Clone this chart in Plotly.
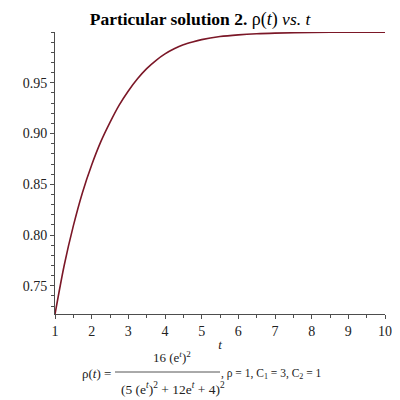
import plotly.graph_objects as go

# values
t_vals = [1, 1.25, 1.5, 1.75, 2, 2.25, 2.5, 2.75, 3, 3.25, 3.5, 3.75, 4,
          4.25, 4.5, 4.75, 5, 5.5, 6, 6.5, 7, 8, 9, 10]
rho_vals = [0.722, 0.770, 0.809, 0.842, 0.869, 0.892, 0.911, 0.928, 0.942,
            0.954, 0.964, 0.972, 0.9785, 0.9835, 0.9875, 0.9903, 0.9926,
            0.9956, 0.9973, 0.9984, 0.9990, 0.99965, 0.99988, 0.99996]

x_ticks = [1, 2, 3, 4, 5, 6, 7, 8, 9, 10]
y_ticks = [0.75, 0.80, 0.85, 0.90, 0.95]
y_tick_text = ["0.75", "0.80", "0.85", "0.90", "0.95"]

serif = "Liberation Serif, Times New Roman, serif"
curve_color = "#7b1727"
axis_color = "#4d4d4d"

# the page body has an 8px margin, so the figure is 392px and shifted
OFF = 8
W = H = 400 - OFF

fig = go.Figure()
fig.add_trace(go.Scatter(x=t_vals, y=rho_vals, mode="lines",
                         line=dict(color=curve_color, width=1.6, shape="spline", smoothing=0.8),
                         hoverinfo="skip", showlegend=False))

# target page pixels of the plot area
L, R, T, B = 55, 385, 32, 314
def px(x):
    return (x - L) / (R - L)
def py(y):
    return (B - y) / (B - T)

fig.update_layout(
    width=W, height=H,
    margin=dict(l=L - OFF, r=400 - R, t=T - OFF, b=400 - B, autoexpand=False),
    paper_bgcolor="white", plot_bgcolor="white",
    title=dict(text="<b>Particular solution 2.</b> <span style='font-size:18px'>ρ(<i>t</i>)</span> <i>vs.</i> <i>t</i>",
               x=(200 - OFF) / W, xanchor="center", y=1 - (19 - OFF) / H, yanchor="middle",
               font=dict(family=serif, size=17.5, color="black")),
    xaxis=dict(range=[1, 10], tickvals=x_ticks, ticktext=[str(v) for v in x_ticks],
               automargin=False,
               showgrid=False, zeroline=False, showline=True, linecolor=axis_color,
               linewidth=1, ticks="outside", ticklen=4, tickcolor=axis_color,
               minor=dict(dtick=0.5, ticks="outside", ticklen=3, tickcolor=axis_color, showgrid=False),
               tickfont=dict(family=serif, size=14, color="#222222"),
               title=dict(text="<i>t</i>", font=dict(family=serif, size=13, color="#222222"),
                          standoff=2)),
    yaxis=dict(range=[0.7222, 1.0001], tickvals=y_ticks, ticktext=y_tick_text,
               automargin=False,
               showgrid=False, zeroline=False, showline=True, linecolor=axis_color,
               linewidth=1, ticks="outside", ticklen=4, tickcolor=axis_color,
               minor=dict(dtick=0.01, tick0=0.7, ticks="outside", ticklen=3,
                          tickcolor=axis_color, showgrid=False),
               tickfont=dict(family=serif, size=14, color="#222222")),
)

cap_font = dict(family=serif, size=13, color="#222222")
fig.add_annotation(text="ρ(<i>t</i>) =", xref="paper", yref="paper",
                   x=px(113), y=py(373), xanchor="right", yanchor="middle",
                   showarrow=False, font=cap_font)
fig.add_annotation(text="16 (e<sup><i>t</i></sup>)<sup>2</sup>", xref="paper", yref="paper",
                   x=px(172), y=py(357), xanchor="center", yanchor="middle",
                   showarrow=False, font=cap_font)
fig.add_annotation(text="(5 (e<sup><i>t</i></sup>)<sup>2</sup> + 12e<sup><i>t</i></sup> + 4)<sup>2</sup>",
                   xref="paper", yref="paper",
                   x=px(173), y=py(388), xanchor="center", yanchor="middle",
                   showarrow=False, font=dict(family=serif, size=13.5, color="#222222"))
fig.add_annotation(text=", ρ = 1, C<sub>1</sub> = 3, C<sub>2</sub> = 1", xref="paper", yref="paper",
                   x=px(219), y=py(374), xanchor="left", yanchor="middle",
                   showarrow=False, font=dict(family=serif, size=11.5, color="#222222"))
fig.add_shape(type="line", xref="paper", yref="paper",
              x0=px(115), x1=px(220), y0=py(372), y1=py(372),
              line=dict(color="#555555", width=1))

fig.write_html("out.html")
